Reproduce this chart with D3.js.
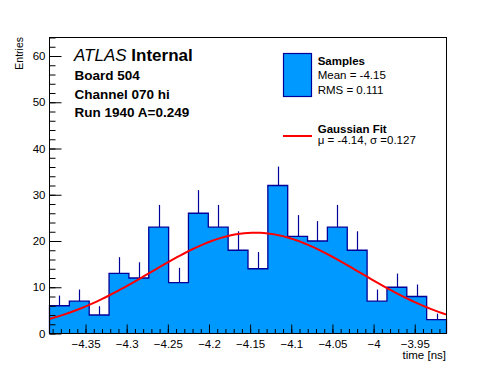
<!DOCTYPE html>
<meta charset="utf-8">
<style>
  body { margin: 0; background: #fff; }
  svg { display: block; font-family: "Liberation Sans", Arial, Helvetica, sans-serif; }
  .axis path { display: none; }
  .axis line { stroke: #000; }
  .axis text { font-size: 11.5px; fill: #000; }
</style>
<body></body>
<script src="https://d3js.org/d3.v7.min.js"></script>
<script>
// histogram range and contents (20 bins)
var xRange = [-4.3938, -3.9114];
var counts = [6, 7, 4, 13, 12, 23, 11, 26, 23, 18, 14, 32, 21, 20, 23, 18, 7, 10, 8, 3];
var errUp = [2.2, 2.5, 1.9, 3.5, 3.4, 4.8, 3.2, 5.0, 4.8, 4.1, 3.6, 4.1, 4.6, 4.3, 4.8, 4.1, 2.5, 2.95, 2.6, 1.3];

// gaussian fit parameters
var fitConst = 21.8, fitMean = -4.144, fitSigma = 0.127;

// axis ticks
var xTickValues = [-4.35, -4.3, -4.25, -4.2, -4.15, -4.1, -4.05, -4, -3.95];
var xTickLabels = ["\u22124.35", "\u22124.3", "\u22124.25", "\u22124.2", "\u22124.15", "\u22124.1", "\u22124.05", "\u22124", "\u22123.95"];
var yRange = [0, 64];
var yTickValues = [0, 10, 20, 30, 40, 50, 60];

var labelLines = ["Board 504", "Channel 070 hi", "Run 1940 A=0.249"];

var W = 496, H = 372;
var svg = d3.select("body").append("svg").attr("width", W).attr("height", H);

var x = d3.scaleLinear().domain(xRange).range([49.5, 446.5]);
var y = d3.scaleLinear().domain(yRange).range([333.5, 37.5]);

var nb = counts.length;
var bw = (xRange[1] - xRange[0]) / nb;
var bins = counts.map(function(c, i) {
  return { lo: xRange[0] + i * bw, hi: xRange[0] + (i + 1) * bw, n: c, e: errUp[i] };
});

// step path for the histogram
var pts = [[bins[0].lo, 0]];
bins.forEach(function(b) { pts.push([b.lo, b.n]); pts.push([b.hi, b.n]); });
pts.push([bins[nb - 1].hi, 0]);
var step = d3.line().x(function(d) { return x(d[0]); }).y(function(d) { return y(d[1]); });

svg.append("path").attr("d", step(pts) + "Z")
  .attr("fill", "#0099ff").attr("stroke", "none");

// upper error bars
svg.selectAll("line.err").data(bins).enter().append("line")
  .attr("class", "err")
  .attr("x1", function(d) { return Math.round(x((d.lo + d.hi) / 2)) + 0.5; })
  .attr("x2", function(d) { return Math.round(x((d.lo + d.hi) / 2)) + 0.5; })
  .attr("y1", function(d) { return y(d.n); })
  .attr("y2", function(d) { return y(d.n + d.e); })
  .attr("stroke", "#000099").attr("stroke-width", 1.2);

svg.append("path").attr("d", step(pts))
  .attr("fill", "none").attr("stroke", "#000099").attr("stroke-width", 1.3);

// fit curve
var fx = d3.range(101).map(function(i) { return xRange[0] + i * (xRange[1] - xRange[0]) / 100; });
var gaus = function(v) { return fitConst * Math.exp(-0.5 * Math.pow((v - fitMean) / fitSigma, 2)); };
svg.append("path")
  .attr("d", d3.line().x(function(d) { return x(d); }).y(function(d) { return y(gaus(d)); })(fx))
  .attr("fill", "none").attr("stroke", "#ff0000").attr("stroke-width", 2);

// axes
var xMinor = d3.range(-4.39, -3.91, 0.01).map(function(v) { return +v.toFixed(2); });
svg.append("g").attr("class", "axis").attr("transform", "translate(0," + y(0) + ")")
  .call(d3.axisBottom(x).tickValues(xMinor).tickSize(-4.5).tickFormat(""));
svg.append("g").attr("class", "axis").attr("transform", "translate(0," + y(0) + ")")
  .call(d3.axisBottom(x).tickValues(xTickValues).tickSize(-9).tickPadding(6)
    .tickFormat(function(d, i) { return xTickLabels[i]; }));

var yMinor = d3.range(0, 65, 2);
svg.append("g").attr("class", "axis").attr("transform", "translate(" + x.range()[0] + ",0)")
  .call(d3.axisLeft(y).tickValues(yMinor).tickSize(-6).tickFormat(""));
svg.append("g").attr("class", "axis").attr("transform", "translate(" + x.range()[0] + ",0)")
  .call(d3.axisLeft(y).tickValues(yTickValues).tickSize(-12).tickPadding(4).tickFormat(d3.format("d")));

// frame
svg.append("rect")
  .attr("x", x.range()[0]).attr("y", y.range()[1])
  .attr("width", x.range()[1] - x.range()[0]).attr("height", y.range()[0] - y.range()[1])
  .attr("fill", "none").attr("stroke", "#000").attr("stroke-width", 1);

// axis titles
svg.append("text").attr("x", 446).attr("y", 358.5).attr("text-anchor", "end")
  .style("font-size", "11.5px").text("time [ns]");
svg.append("text").attr("transform", "translate(23,37) rotate(-90)").attr("text-anchor", "end")
  .style("font-size", "10.5px").text("Entries");

// ATLAS label
var atl = svg.append("text").attr("x", 74).attr("y", 60.7).style("font-size", "17px");
atl.append("tspan").style("font-style", "italic").text("ATLAS");
atl.append("tspan").style("font-weight", "bold").text(" Internal");

svg.selectAll("text.info").data(labelLines).enter().append("text")
  .attr("class", "info")
  .attr("x", 74.5)
  .attr("y", function(d, i) { return 80 + i * 18.7; })
  .style("font-size", "13.5px").style("font-weight", "bold")
  .text(function(d) { return d; });

// legend
var lg = svg.append("g");
lg.append("rect").attr("x", 283.5).attr("y", 53.5).attr("width", 28).attr("height", 43)
  .attr("fill", "#0099ff").attr("stroke", "#000099").attr("stroke-width", 1.2);
lg.append("line").attr("x1", 283).attr("x2", 312).attr("y1", 136).attr("y2", 136)
  .attr("stroke", "#ff0000").attr("stroke-width", 2);

var legText = [
  { t: "Samples", y: 65, b: true },
  { t: "Mean = -4.15", y: 79.3, b: false },
  { t: "RMS = 0.111", y: 94, b: false },
  { t: "Gaussian Fit", y: 132.7, b: true },
  { t: "\u03bc = -4.14, \u03c3 =0.127", y: 144.3, b: false }
];
lg.selectAll("text").data(legText).enter().append("text")
  .attr("x", 317.7).attr("y", function(d) { return d.y; })
  .style("font-size", "11.5px")
  .style("font-weight", function(d) { return d.b ? "bold" : "normal"; })
  .text(function(d) { return d.t; });
</script>
